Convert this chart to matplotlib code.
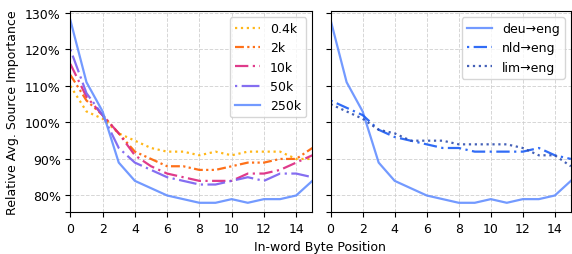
import matplotlib
matplotlib.use("Agg")
import matplotlib.pyplot as plt
from matplotlib.ticker import FuncFormatter

positions = list(range(16))

# left panel: vocabulary sizes
vocab_labels = ["0.4k", "2k", "10k", "50k", "250k"]
vocab_04k = [110, 103, 101, 97, 95, 93, 92, 92, 91, 92, 91, 92, 92, 92, 90, 90]
vocab_2k = [113, 106, 102, 97, 92, 90, 88, 88, 87, 87, 88, 89, 89, 90, 90, 93]
vocab_10k = [116, 107, 102, 97, 91, 88, 86, 85, 84, 84, 84, 86, 86, 87, 89, 91]
vocab_50k = [120, 108, 102, 93, 89, 87, 85, 84, 83, 83, 84, 85, 84, 86, 86, 85]
vocab_250k = [128, 111, 103, 89, 84, 82, 80, 79, 78, 78, 79, 78, 79, 79, 80, 84]

# right panel: language pairs
pair_labels = ["deu\u2192eng", "nld\u2192eng", "lim\u2192eng"]
deu_eng = vocab_250k
nld_eng = [106, 104, 102, 98, 96, 95, 94, 93, 93, 92, 92, 92, 92, 93, 91, 90]
lim_eng = [105, 103, 101, 98, 97, 95, 95, 95, 94, 94, 94, 94, 93, 91, 91, 88]

left_series = [vocab_04k, vocab_2k, vocab_10k, vocab_50k, vocab_250k]
left_colors = ["#FFB000", "#FE6100", "#DC267F", "#785EF0", "#648FFF"]
left_styles = [":", (0, (4, 1.5, 1, 1.5, 1, 1.5)), (0, (6, 2, 1, 2)),
               (0, (1, 2, 8, 2)), "-"]

right_series = [deu_eng, nld_eng, lim_eng]
right_colors = ["#648FFF", "#1A5CF5", "#2F4FB0"]
right_styles = ["-", (0, (1, 2, 6, 2)), ":"]

plt.rcParams["font.size"] = 9

fig = plt.figure(figsize=(5.72, 2.55), dpi=100)
ax1 = fig.add_axes([0.123, 0.165, 0.423, 0.788])
ax2 = fig.add_axes([0.578, 0.165, 0.42, 0.788], sharey=ax1)

for values, label, color, style in zip(left_series, vocab_labels, left_colors, left_styles):
    ax1.plot(positions, values, color=color, linestyle=style, linewidth=1.6,
             alpha=0.9, label=label)

for values, label, color, style in zip(right_series, pair_labels, right_colors, right_styles):
    ax2.plot(positions, values, color=color, linestyle=style, linewidth=1.6,
             alpha=0.9, label=label)

for ax in (ax1, ax2):
    ax.set_xlim(0, 15)
    ax.set_xticks(range(0, 16, 2))
    ax.grid(True, linestyle="--", color="#cccccc", linewidth=0.7, alpha=0.8)
    ax.legend(loc="upper right", fontsize=9)

ax1.set_ylim(75.5, 130.5)
ax1.set_yticks([75.5, 80, 90, 100, 110, 120, 130])
ax1.yaxis.set_major_formatter(
    FuncFormatter(lambda v, _: f"{v:.0f}%" if v >= 79 else ""))
ax2.tick_params(labelleft=False)

ax1.set_ylabel("Relative Avg. Source Importance")
fig.text(0.56, 0.005, "In-word Byte Position", ha="center", va="bottom", fontsize=9)

fig.savefig("out.png", dpi=100)
